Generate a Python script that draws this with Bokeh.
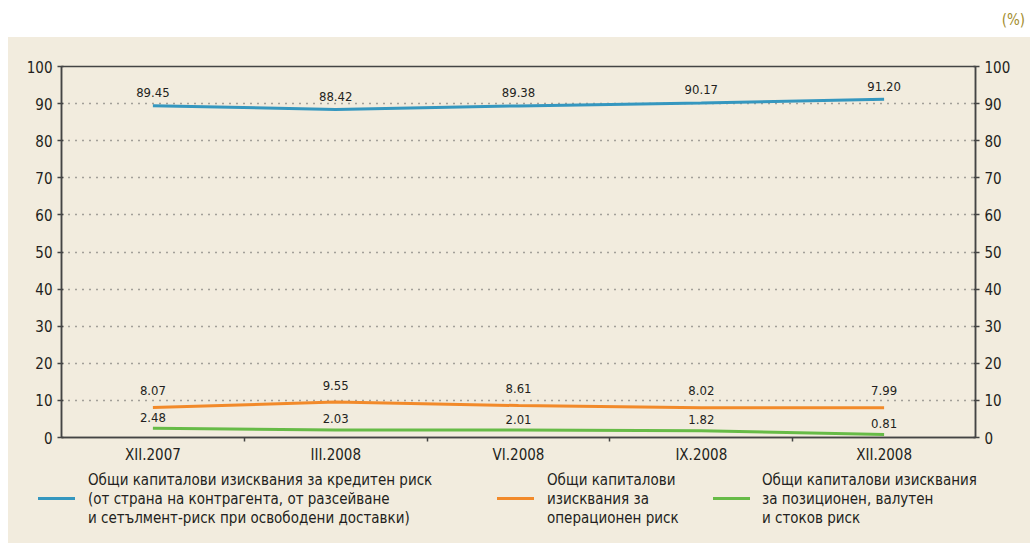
from bokeh.plotting import figure
from bokeh.models import (Range1d, LinearAxis, FixedTicker, ColumnDataSource, Div)
from bokeh.layouts import column
from bokeh.core.properties import value
from bokeh.embed import file_html
from bokeh.resources import INLINE

# --- data -------------------------------------------------------------
categories = ["XII.2007", "III.2008", "VI.2008", "IX.2008", "XII.2008"]
credit_risk = [89.45, 88.42, 89.38, 90.17, 91.20]
operational_risk = [8.07, 9.55, 8.61, 8.02, 7.99]
market_risk = [2.48, 2.03, 2.01, 1.82, 0.81]
y_ticks = [0, 10, 20, 30, 40, 50, 60, 70, 80, 90, 100]

series_names = [
    ["Общи капиталови изисквания за кредитен риск",
     "(от страна на контрагента, от разсейване",
     "и сетълмент-риск при освободени доставки)"],
    ["Общи капиталови", "изисквания за", "операционен риск"],
    ["Общи капиталови изисквания", "за позиционен, валутен", "и стоков риск"],
]
series_values = [credit_risk, operational_risk, market_risk]
series_colors = ["#3597BF", "#F28A2A", "#67BB47"]

# --- styling ----------------------------------------------------------
BG = "#F2ECDE"
INK = "#231F20"
AXIS = "#444444"
FONT = "DejaVu Sans Condensed, Liberation Sans Narrow, Roboto, sans-serif"
label_offsets = [-13, -17, -11]   # value-label lift per series, px

x_pos = [i + 0.5 for i in range(len(categories))]

p = figure(width=1022, height=430, x_range=Range1d(0, len(categories)),
           y_range=Range1d(0, 100), output_backend="svg", toolbar_location=None,
           min_border_left=53, min_border_right=55, min_border_top=29,
           min_border_bottom=30, background_fill_color=BG, border_fill_color=BG)
p.outline_line_color = AXIS
p.outline_line_width = 1.5

# x axis: labels at the category centres, ticks at the boundaries
p.xaxis.ticker = FixedTicker(ticks=x_pos, minor_ticks=[1, 2, 3, 4])
p.xaxis.major_label_overrides = {x: c for x, c in zip(x_pos, categories)}
p.xaxis.major_tick_out = 0
p.xaxis.major_tick_in = 0
p.xaxis.minor_tick_out = 4
p.xaxis.minor_tick_in = 0
p.xaxis.minor_tick_line_color = AXIS
p.xaxis.minor_tick_line_width = 1.5
p.xaxis.axis_line_color = AXIS
p.xaxis.axis_line_width = 1.5
p.xaxis.major_label_text_font = FONT
p.xaxis.major_label_text_font_size = "15px"
p.xaxis.major_label_text_color = INK
p.xaxis.major_label_standoff = 4

# y axes on both sides
right_axis = LinearAxis()
p.add_layout(right_axis, "right")
for ax in (p.yaxis[0], right_axis):
    ax.ticker = FixedTicker(ticks=y_ticks)
    ax.minor_tick_line_color = None
    ax.major_tick_out = 4
    ax.major_tick_in = 2
    ax.major_tick_line_color = AXIS
    ax.major_tick_line_width = 1.5
    ax.axis_line_color = AXIS
    ax.axis_line_width = 1.5
    ax.major_label_text_font = FONT
    ax.major_label_text_font_size = "15px"
    ax.major_label_text_color = INK
    ax.major_label_standoff = 5

p.xgrid.grid_line_color = None
p.ygrid.ticker = FixedTicker(ticks=y_ticks[1:-1])
p.ygrid.grid_line_color = "#555555"
p.ygrid.grid_line_dash = "1 6"
p.ygrid.grid_line_width = 1.6

for vals, color, off in zip(series_values, series_colors, label_offsets):
    src = ColumnDataSource(dict(x=x_pos, y=vals, lbl=[f"{v:.2f}" for v in vals]))
    p.line("x", "y", source=src, line_color=color, line_width=3)
    p.text("x", "y", text="lbl", source=src, text_align="center",
           text_baseline="middle", y_offset=off, text_color=INK,
           text_font=value(FONT), text_font_size="13px")

# --- legend panel (HTML) ----------------------------------------------
line_left = [30, 489, 705]
text_left = [80, 539, 754]
items = []
for name, color, lx, tx in zip(series_names, series_colors, line_left, text_left):
    items.append(
        f'<div style="position:absolute;left:{lx}px;top:30px;width:37px;'
        f'height:3px;background:{color}"></div>'
        f'<div style="position:absolute;left:{tx}px;top:4px;white-space:nowrap">'
        + "<br>".join(name) + "</div>")
legend_html = (
    f'<div style="position:relative;width:1022px;height:76px;background:{BG};'
    f'font-family:{FONT};font-size:15px;line-height:19px;color:{INK}">'
    + "".join(items) + "</div>")
legend = Div(text=legend_html, width=1022, height=76, margin=0)

unit = Div(text="(%)", width=1030, height=37, margin=0,
           styles={"text-align": "right", "color": "#A38D2E",
                   "font-family": FONT, "font-size": "15px",
                   "line-height": "40px", "height": "37px",
                   "overflow": "hidden", "background-color": "white"},
           stylesheets=[":host { padding-right: 5px; box-sizing: border-box; }"])

panel = column(p, legend, spacing=0, margin=(0, 0, 0, 8),
               styles={"background-color": BG})
layout = column(unit, panel, spacing=0, margin=0)
open("out.html", "w").write(file_html(layout, INLINE))
